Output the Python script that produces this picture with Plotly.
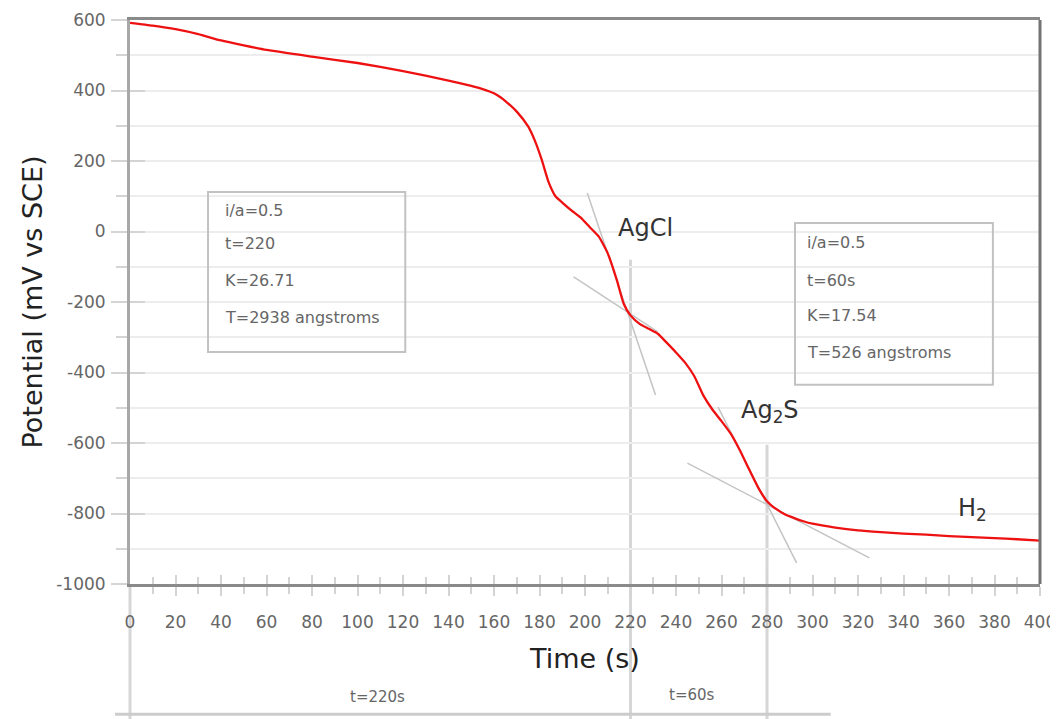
import plotly.graph_objects as go

# ---- data ----
time_s = [0, 10, 20, 30, 40, 50, 60, 80, 100, 120, 140, 150, 155, 160, 163, 165, 170, 175, 178,
          181, 184, 187, 190, 194, 198, 202, 206, 210, 214, 217, 220, 224, 228, 232, 236, 240,
          244, 248, 252, 256, 260, 264, 268, 272, 276, 280, 284, 288, 292, 296, 300, 310, 320,
          330, 340, 350, 360, 370, 380, 390, 400]
potential_mv = [592, 584, 574, 560, 542, 528, 515, 496, 478, 455, 428, 413, 404, 392, 380, 370, 340,
                298, 257, 203, 140, 100, 82, 60, 40, 13, -14, -62, -138, -205, -238, -262, -276,
                -290, -316, -343, -372, -410, -465, -505, -538, -573, -620, -673, -725, -765, -787,
                -803, -813, -822, -829, -840, -848, -853, -857, -860, -864, -867, -870, -873, -877]

# tangent construction lines
agcl_steep_x, agcl_steep_y = [201, 231], [109, -464]
agcl_flat_x, agcl_flat_y = [195, 232], [-129, -285]
ag2s_steep_x, ag2s_steep_y = [258.5, 293], [-498, -940]
ag2s_flat_x, ag2s_flat_y = [245, 325], [-657, -926]

# transition times (vertical markers) and their top ends
transition_t = [220, 280]
transition_top = [-80, -605]

x_ticks = list(range(0, 401, 20))
y_ticks = list(range(-1000, 601, 200))
y_ticktext = [str(v) for v in y_ticks]

box1_lines = ["i/a=0.5", "t=220", "K=26.71", "T=2938 angstroms"]
box2_lines = ["i/a=0.5", "t=60s", "K=17.54", "T=526 angstroms"]
box1_line_y = [61, -33, -138, -243]
box2_line_y = [-30, -138, -237, -342]

XMIN, XMAX = 0, 400
YMIN, YMAX = -1000, 600

FONT = "DejaVu Sans"

fig = go.Figure()

tan_style = dict(color="#c4c4c4", width=1.5)
for xs, ys in [(agcl_steep_x, agcl_steep_y), (agcl_flat_x, agcl_flat_y),
               (ag2s_steep_x, ag2s_steep_y), (ag2s_flat_x, ag2s_flat_y)]:
    fig.add_trace(go.Scatter(x=xs, y=ys, mode="lines", line=tan_style,
                             hoverinfo="skip", showlegend=False))

fig.add_trace(go.Scatter(x=time_s, y=potential_mv, mode="lines",
                         line=dict(color="#ee1111", width=2.3, shape="spline", smoothing=0.5),
                         showlegend=False))

# overlay axes to draw the inner halves of the crossing ticks
fig.add_trace(go.Scatter(x=[XMIN], y=[YMIN], xaxis="x2", yaxis="y2", mode="markers",
                         marker=dict(opacity=0), hoverinfo="skip", showlegend=False))

tick_col = "#d4d4d4"
# the page body adds an 8px offset, so the figure is sized to fill the rest of the window
fig.update_layout(
    width=1050, height=711,
    margin=dict(l=122, r=18, t=12, b=135, autoexpand=False),
    paper_bgcolor="white", plot_bgcolor="white",
    font=dict(family=FONT, color="#666666"),
    xaxis=dict(range=[XMIN, XMAX], tickvals=x_ticks, ticks="outside", ticklen=9,
               tickwidth=2, tickcolor=tick_col, automargin=False,
               minor=dict(dtick=10, ticks="outside", ticklen=7, tickwidth=2, tickcolor=tick_col,
                          showgrid=False),
               showgrid=False, zeroline=False, ticklabelstandoff=12,
               showline=True, linecolor="#8a8a8a", linewidth=3, mirror=True,
               tickfont=dict(size=17, color="#666666", family=FONT),
               title=dict(text="Time (s)", font=dict(size=27, color="#222222", family=FONT),
                          standoff=18)),
    yaxis=dict(range=[YMIN, YMAX], tickvals=y_ticks, ticktext=y_ticktext,
               ticks="outside", ticklen=16, tickwidth=2, tickcolor=tick_col, automargin=False,
               minor=dict(dtick=100, ticks="outside", ticklen=11, tickwidth=2,
                          tickcolor=tick_col, showgrid=True, gridcolor="#ededed", gridwidth=2),
               showgrid=True, gridcolor="#ededed", gridwidth=2, zeroline=False,
               ticklabelstandoff=2,
               showline=True, linecolor="#a8a8a8", linewidth=3,
               tickfont=dict(size=17, color="#666666", family=FONT),
               title=dict(text="Potential (mV vs SCE)",
                          font=dict(size=27, color="#222222", family=FONT), standoff=6)),
    xaxis2=dict(range=[XMIN, XMAX], overlaying="x", anchor="y2", side="bottom",
                tickvals=x_ticks, ticks="inside", ticklen=9, tickwidth=2, tickcolor=tick_col,
                minor=dict(dtick=10, ticks="inside", ticklen=7, tickwidth=2, tickcolor=tick_col),
                showticklabels=False, showgrid=False, zeroline=False, showline=False,
                automargin=False),
    yaxis2=dict(range=[YMIN, YMAX], overlaying="y", anchor="x2", side="left",
                tickvals=y_ticks, ticks="inside", ticklen=15, tickwidth=2, tickcolor=tick_col,
                showticklabels=False, showgrid=False, zeroline=False, showline=False,
                automargin=False),
)

def ypaper(v):
    return (v - YMIN) / (YMAX - YMIN)

def xpaper(v):
    return (v - XMIN) / (XMAX - XMIN)

bottom_paper = -0.245
shapes = []
# right border
shapes.append(dict(type="line", xref="paper", yref="paper", x0=1, x1=1, y0=0, y1=1,
                   line=dict(color="#737373", width=3)))
# x=0 axis continuation below the plot
shapes.append(dict(type="line", xref="paper", yref="paper", x0=0, x1=0, y0=0, y1=bottom_paper,
                   line=dict(color="#d6d6d6", width=3), layer="below"))
# transition markers
for t, top in zip(transition_t, transition_top):
    shapes.append(dict(type="line", xref="paper", yref="paper", x0=xpaper(t), x1=xpaper(t),
                       y0=ypaper(top), y1=bottom_paper,
                       line=dict(color="#d6d6d6", width=3), layer="below"))
# bottom bracket line
shapes.append(dict(type="line", xref="paper", yref="paper", x0=-0.0165, x1=xpaper(308),
                   y0=-0.231, y1=-0.231, line=dict(color="#cccccc", width=3)))
# text boxes
shapes.append(dict(type="rect", xref="x", yref="y", x0=34.3, x1=121, y0=112, y1=-342,
                   line=dict(color="#c2c2c2", width=2)))
shapes.append(dict(type="rect", xref="x", yref="y", x0=292.3, x1=379.3, y0=24, y1=-435,
                   line=dict(color="#c2c2c2", width=2)))
fig.update_layout(shapes=shapes)

ann = []
for txt, yv in zip(box1_lines, box1_line_y):
    ann.append(dict(x=40.9, y=yv, xref="x", yref="y", text=txt, showarrow=False,
                    xanchor="left", yanchor="middle",
                    font=dict(size=16, color="#666666", family=FONT)))
for txt, yv in zip(box2_lines, box2_line_y):
    ann.append(dict(x=296.7, y=yv, xref="x", yref="y", text=txt, showarrow=False,
                    xanchor="left", yanchor="middle",
                    font=dict(size=16, color="#666666", family=FONT)))
chem = [("AgCl", 226.4, 10), ("Ag<sub>2</sub>S", 281.3, -512), ("H<sub>2</sub>", 370.5, -790)]
for txt, xv, yv in chem:
    ann.append(dict(x=xv, y=yv, xref="x", yref="y", text=txt, showarrow=False,
                    xanchor="center", yanchor="middle",
                    font=dict(size=24, color="#333333", family=FONT)))
ann.append(dict(x=108.6, y=-0.2004, xref="x", yref="paper", text="t=220s", showarrow=False,
                xanchor="center", yanchor="middle", font=dict(size=15, color="#666666", family=FONT)))
ann.append(dict(x=247, y=-0.197, xref="x", yref="paper", text="t=60s", showarrow=False,
                xanchor="center", yanchor="middle", font=dict(size=15, color="#666666", family=FONT)))
fig.update_layout(annotations=ann)

fig.write_html("out.html")
